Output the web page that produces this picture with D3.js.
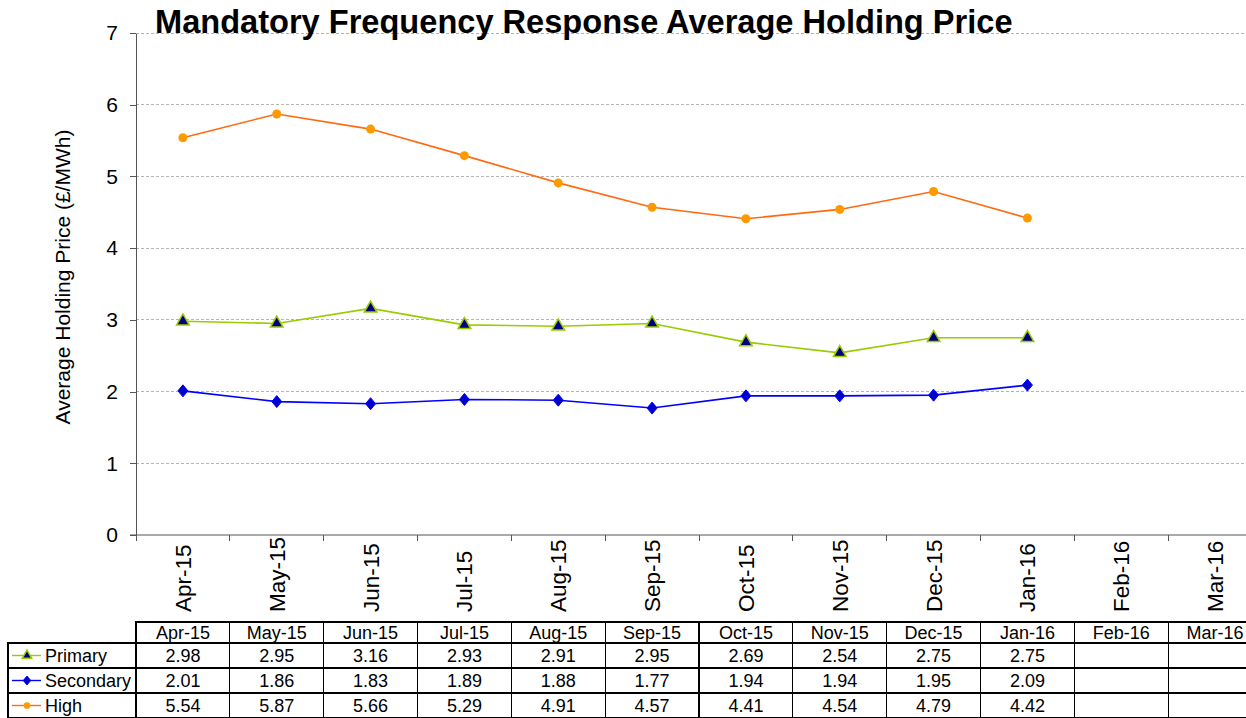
<!doctype html>
<html>
<head>
<meta charset="utf-8">
<title>Mandatory Frequency Response Average Holding Price</title>
<script src="https://cdnjs.cloudflare.com/ajax/libs/d3/7.8.5/d3.min.js"></script>
<style>
    body { margin: 0; background: #fff; }
    svg text { font-family: "Liberation Sans", Arial, sans-serif; fill: #000; }
    .grid line { stroke: #b4b4b4; stroke-dasharray: 3, 2; shape-rendering: crispEdges; }
    .axis path, .axis line { stroke: #555; shape-rendering: crispEdges; }
    .cell { fill: none; stroke: #000; stroke-width: 1.2; shape-rendering: crispEdges; }
</style>
</head>
<body>
<svg id="chart" width="1246" height="718"></svg>
<script>
// Data
var months = ["Apr-15", "May-15", "Jun-15", "Jul-15", "Aug-15", "Sep-15",
              "Oct-15", "Nov-15", "Dec-15", "Jan-16", "Feb-16", "Mar-16"];
var primary   = [2.98, 2.95, 3.16, 2.93, 2.91, 2.95, 2.69, 2.54, 2.75, 2.75];
var secondary = [2.01, 1.86, 1.83, 1.89, 1.88, 1.77, 1.94, 1.94, 1.95, 2.09];
var high      = [5.54, 5.87, 5.66, 5.29, 4.91, 4.57, 4.41, 4.54, 4.79, 4.42];
var yTicks = [0, 1, 2, 3, 4, 5, 6, 7];

var series = [
    { name: "Primary",   values: primary,   line: "#99cc00", marker: "triangle" },
    { name: "Secondary", values: secondary, line: "#0000ff", marker: "diamond" },
    { name: "High",      values: high,      line: "#ff6a10", marker: "circle" }
];

var svg = d3.select("#chart");

// Scales
var x = d3.scaleBand().domain(months).range([136, 1262]);
var y = d3.scaleLinear().domain([0, 7]).range([535, 33]);

// Gridlines
svg.append("g")
    .attr("class", "grid")
    .selectAll("line")
    .data(yTicks.slice(1))
    .enter().append("line")
    .attr("x1", 136).attr("x2", 1262)
    .attr("y1", function(d) { return y(d); })
    .attr("y2", function(d) { return y(d); });

// Title
svg.append("text")
    .attr("x", 155).attr("y", 33)
    .style("font-size", "32.6px")
    .style("font-weight", "bold")
    .text("Mandatory Frequency Response Average Holding Price");

// Y axis
var yAxis = svg.append("g")
    .attr("class", "axis")
    .attr("transform", "translate(136,0)")
    .call(d3.axisLeft(y).tickValues(yTicks).tickFormat(d3.format("d"))
        .tickSize(6).tickSizeOuter(0).tickPadding(12));
yAxis.selectAll("text").style("font-size", "21px");

svg.append("text")
    .attr("transform", "translate(70,277) rotate(-90)")
    .attr("text-anchor", "middle")
    .style("font-size", "21px")
    .text("Average Holding Price (£/MWh)");

// X axis (ticks at band boundaries)
svg.append("line")
    .attr("class", "axis")
    .attr("x1", 130).attr("x2", 1262)
    .attr("y1", y(0)).attr("y2", y(0))
    .style("stroke", "#555");
var bounds = months.map(function(m) { return x(m); });
svg.append("g")
    .attr("class", "axis")
    .selectAll("line")
    .data(bounds)
    .enter().append("line")
    .attr("x1", function(d) { return d; }).attr("x2", function(d) { return d; })
    .attr("y1", y(0)).attr("y2", y(0) + 6);

svg.append("g")
    .selectAll("text")
    .data(months)
    .enter().append("text")
    .attr("transform", function(d) {
        return "translate(" + (x(d) + x.bandwidth() / 2 + 8) + ",612) rotate(-90)";
    })
    .style("font-size", "22.5px")
    .text(function(d) { return d; });

// Lines and markers
var line = d3.line()
    .x(function(d, i) { return x(months[i]) + x.bandwidth() / 2; })
    .y(function(d) { return y(d); });

function drawMarker(g, type, k) {
    if (type === "triangle") {
        g.append("path")
            .attr("d", d3.symbol().type(d3.symbolTriangle).size(70 * k))
            .attr("fill", "#000080").attr("stroke", "#99cc00").attr("stroke-width", 1.5);
    } else if (type === "diamond") {
        var w = 5 * Math.sqrt(k), h = 6 * Math.sqrt(k);
        g.append("path")
            .attr("d", "M0," + (-h) + "L" + w + ",0L0," + h + "L" + (-w) + ",0Z")
            .attr("fill", "#0000cc").attr("stroke", "#0000ff").attr("stroke-width", 1);
    } else {
        g.append("circle")
            .attr("r", 4.5 * Math.sqrt(k))
            .attr("fill", "#ff9900");
    }
}

series.forEach(function(s) {
    svg.append("path")
        .datum(s.values)
        .attr("fill", "none")
        .attr("stroke", s.line)
        .attr("stroke-width", 1.6)
        .attr("d", line);
    s.values.forEach(function(v, i) {
        var g = svg.append("g")
            .attr("transform", "translate(" + (x(months[i]) + x.bandwidth() / 2) + "," + y(v) + ")");
        drawMarker(g, s.marker, 1);
    });
});

// Data table
var headTop = 622, rowH = 25, headH = 21, tableLeft = 8;
var bw = x.bandwidth();

months.forEach(function(m) {
    svg.append("rect").attr("class", "cell")
        .attr("x", x(m)).attr("y", headTop).attr("width", bw).attr("height", headH);
    svg.append("text")
        .attr("x", x(m) + bw / 2).attr("y", headTop + 17)
        .attr("text-anchor", "middle")
        .style("font-size", "18px")
        .text(m);
});

series.forEach(function(s, r) {
    var top = headTop + headH + r * rowH;
    svg.append("rect").attr("class", "cell")
        .attr("x", tableLeft).attr("y", top).attr("width", 136 - tableLeft).attr("height", rowH);
    var key = svg.append("g").attr("transform", "translate(0," + (top + rowH / 2) + ")");
    key.append("line")
        .attr("x1", 12).attr("x2", 41)
        .attr("stroke", s.line).attr("stroke-width", 1.4);
    var mk = key.append("g").attr("transform", "translate(27,0)");
    drawMarker(mk, s.marker, 0.55);
    svg.append("text")
        .attr("x", 45).attr("y", top + 19)
        .style("font-size", "18px")
        .text(s.name);
    months.forEach(function(m, i) {
        svg.append("rect").attr("class", "cell")
            .attr("x", x(m)).attr("y", top).attr("width", bw).attr("height", rowH);
        if (i < s.values.length) {
            svg.append("text")
                .attr("x", x(m) + bw / 2).attr("y", top + 19)
                .attr("text-anchor", "middle")
                .style("font-size", "18px")
                .text(s.values[i].toFixed(2));
        }
    });
});
</script>
</body>
</html>
